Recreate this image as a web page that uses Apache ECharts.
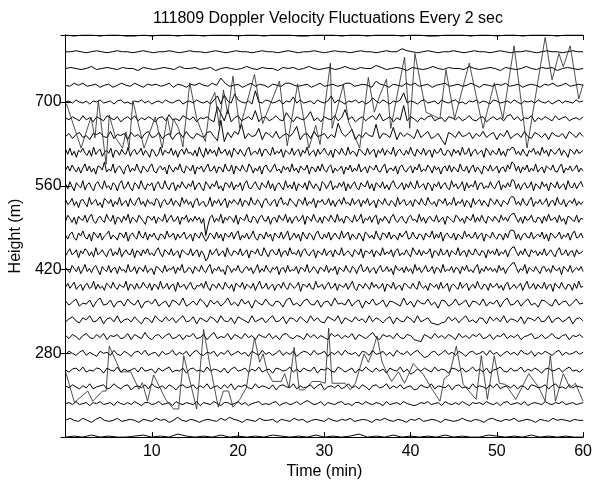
<!DOCTYPE html>
<html><head><meta charset="utf-8">
<script src="https://cdn.jsdelivr.net/npm/echarts@6/dist/echarts.min.js"></script>
<style>html,body{margin:0;padding:0;background:#fff}#c{width:595px;height:485px}</style>
</head><body><div id="c"></div>
<script>
// Trace baselines (m), bottom to top
const baselines = [140,168,196,224,252,280,308,336,364,392,420,448,476,504,532,560,588,616,644,672,700,728,756,784,812];
const xTickLabels = [10,20,30,40,50,60];
const yTickLabels = [280,420,560,700];
// Plot scale: metres of offset per unit of velocity fluctuation
const gain = 1.7;

// Velocity fluctuation traces (scaled units about each baseline), uniformly sampled over 0-60 min
const f140 = [0,1,0,2,0,1,0,0,1,2,0,1,0,3,1,0,1,0,2,0,1,0,1,0,2,1,0,1,0,2,0,1,0,1,3,0,1,0,2,0,1,0,1,0,2,0,1,0,0,2,1,0,1,0,2,0,1,0,1,0,0];
const f168 = [0,2,0,-1,2,0,-2,1,3,0,-1,0,2,-1,0,1,0,-2,1,0,-1,2,0,1,-2,0,3,0,-1,1,0,-2,0,1,0,-1,2,0,3,1,0,-2,1,0,-1,2,0,0,1,-2,1,0,-1,2,0,1,-2,0,1,0,-1,2,0,-1,1,0,2,-1,0,1,0,-2,1,0,2,0,-1,1,0,-2,1,0,2,-1,0,1,0,-2,1,0,-1,0,2,0,-1,1,0,-2,1,2,0,-1,1,0,2,-1,0,1,0,-2,1,0,-1,2,0,1,0,-1,1,0,0];
const f196 = [0,1,-1,2,-1,0,1,-2,1,0,2,-1,0,1,-2,2,0,-1,1,-1,2,0,-2,1,1,-1,0,2,-1,0,1,-2,2,0,-1,1,0,-1,2,-2,1,0,-1,2,0,-2,1,1,-1,0,2,-1,1,-2,0,1,2,-1,0,-1,1,2,-2,0,1,-1,0,2,-1,1,3,1,-1,0,2,-2,1,0,-1,1,2,-1,0,-2,1,1,-1,2,0,-1,1,0,-2,2,-1,0,1,-1,2,0,-1,-2,-1,1,0,2,-1,0,1,-2,2,0,-1,1,-1,2,0,-2,1,0,1,-1,2,0,-1,1,-2,1,2,-1,0,1,-1,2,-2,0,1,0,-1,2,0,-1,1,0,2,-1,0,1,-1,0,1];
const f224 = [1,-1,2,0,-2,1,-1,3,-2,0,1,2,-2,-1,3,0,-2,1,2,-3,0,1,-1,2,-2,3,0,-1,1,-2,2,0,-3,1,2,-1,0,2,-2,1,-1,3,-2,0,1,-2,2,-1,3,-3,1,0,2,-1,-2,3,-1,1,0,-2,2,-3,1,2,0,-1,3,-2,1,-1,0,2,-2,1,3,-3,0,1,-1,2,-2,0,3,-1,1,-2,2,0,-3,1,2,-1,0,3,-2,1,-1,2,-2,0,1,-3,-2,2,0,-1,3,-2,1,0,-1,2,-3,1,2,-1,0,-2,3,-1,1,0,-2,2,-1,3,-2,0,1,-1,2,-2,1,0,-3,2,1,-1,0,2,-2,1,3,-1,0,-2,2,-1,1,0,-1];
const f252 = [0,-2,1,2,-1,3,-2,0,-1,2,1,-3,2,0,-1,3,-2,1,-1,0,2,-2,3,-1,0,1,-3,2,-1,1,3,-2,0,-1,2,-3,1,2,-1,0,-2,3,-1,1,0,-2,2,-3,1,3,-1,0,2,-2,1,-1,3,-2,0,1,-3,2,1,-1,0,3,-2,1,-2,2,0,-1,3,-3,1,0,2,-1,-2,3,1,-2,0,2,-3,1,-1,3,0,-2,2,-1,1,-3,2,0,-1,3,-2,1,-4,-2,1,-1,2,0,-2,3,-1,1,0,-3,2,1,-1,2,-2,0,3,-1,1,-2,2,-3,0,1,3,-1,-2,2,-1,0,3,-2,1,-1,2,0,-3,1,2,-1,0,2,-2,1,3,-1,0,-2,1];
const f280 = [-1,2,0,-2,1,3,-2,1,-1,-3,2,0,1,-2,3,-1,-2,2,0,-3,1,2,-1,3,-2,0,1,-3,2,-1,0,3,-2,1,-1,2,-3,1,3,-1,-2,1,0,2,-3,1,-1,3,-2,0,2,-1,1,-3,2,0,-2,3,-1,1,-2,0,3,-2,1,-1,2,-3,0,2,1,-2,3,-1,0,2,-3,1,-1,2,-2,3,0,-1,1,-3,2,1,-2,3,-1,0,2,-2,1,-3,3,0,-1,2,-2,1,3,-1,-4,-3,1,2,-2,0,3,-1,1,-2,2,0,-3,1,2,-1,0,2,-2,3,-1,1,-3,0,2,-1,1,-2,3,0,-1,2,-3,1,-1,2,0,-2,1,3,-2,1,-1,0,2,-1,1];
const f308 = [1,-2,2,0,-3,1,3,-1,-2,2,-1,3,-3,1,0,2,-2,-1,3,-3,2,0,-2,4,-1,-3,1,2,-2,1,3,-2,-1,2,-3,1,0,3,-2,-1,2,-3,1,4,-2,0,-1,3,-3,2,0,-2,3,-1,1,-3,2,0,-1,3,-2,1,-3,2,3,-1,-2,1,0,-3,3,-1,2,-2,1,-1,-3,3,0,2,-2,1,-1,3,-3,2,0,-2,1,4,-1,-3,2,0,1,-2,3,-1,-2,2,1,-3,-4,-5,2,0,-2,3,-1,1,-2,2,0,-3,3,-1,1,-2,2,0,3,-2,-1,2,-3,1,0,3,-2,1,-1,2,-3,0,1,3,-2,-1,2,-2,0,3,-1,-2,1,2,-3,1,0,2,-1];
const f336 = [-2,1,3,-1,-3,2,0,4,-2,-1,3,-4,1,2,-2,4,-3,0,1,-2,3,-1,-4,2,1,-3,4,0,-2,3,-1,2,-3,1,4,-2,-1,3,-4,2,0,-2,3,1,-3,4,-1,-2,2,-4,3,1,-1,-3,4,-2,0,2,-3,1,4,-2,-1,3,-4,2,1,-2,3,0,-3,4,-1,2,-2,-3,3,1,-1,4,-4,2,0,-2,3,-1,1,-3,4,-2,2,0,-3,1,3,-4,2,-1,-2,3,1,-3,4,-2,0,2,-3,-4,-5,-3,-2,3,-1,2,-3,1,4,-2,0,-3,2,1,-4,3,-1,2,-2,4,-3,1,0,-2,3,-4,2,1,-1,3,-2,-1,4,-3,1,2,-2,0,3,-4,1,2,-1];
const f364 = [2,-2,1,4,-3,0,-1,3,-4,2,5,-2,-1,3,-4,1,2,-3,4,0,-2,3,-5,1,2,-1,4,-3,0,2,-4,3,1,-2,5,-3,-1,2,-2,4,1,-4,3,-1,2,-3,0,5,-2,1,-3,4,-1,2,-5,3,0,-2,4,-1,-3,2,1,-4,3,5,-2,0,-3,2,4,-1,-2,3,-4,1,2,-3,5,-1,0,-2,4,-3,1,3,-5,2,-1,4,-2,0,3,-4,2,1,-1,-3,5,-2,2,-4,3,0,-1,4,-2,1,-5,3,2,-3,-1,4,-2,0,3,-4,2,1,-2,4,-3,1,-1,3,-4,2,5,-2,-1,3,-3,1,4,-2,0,-4,3,2,-1,-3,4,-2,1,2,-3,0,4,-1,0];
const f392 = [-1,3,-2,1,4,-3,0,2,-4,1,3,-2,-1,5,-3,2,-2,0,-4,3,1,-2,4,-1,-3,2,0,-1,5,-4,2,1,-3,3,-2,-1,4,0,-2,3,-4,2,1,-3,5,-2,-1,3,-3,1,2,-5,4,-1,0,2,-3,1,4,-2,-3,1,0,3,-2,5,-1,-4,2,1,-2,3,-1,-3,4,0,-2,2,-5,3,1,-1,4,-3,2,0,-2,3,-4,1,5,-2,-1,3,-3,0,2,-4,1,2,-2,4,-1,-3,3,1,-2,0,4,-5,2,1,-1,3,-2,-3,5,-1,0,2,-3,1,4,-2,-1,3,-4,2,0,-1,3,-3,1,5,-2,-4,2,1,-2,3,0,-3,4,-1,2,-2,-1,3,-5,2,1,-2,4,-3,0,1,-4,3,2,-1,-2,3,-1,-3,5,0,-2,1,-4,3,1,-1,2,-3,4,-2,0,3,-5,1,2,-1,-3,4,-2,1,3,-4,0,2,-2,5,-1,-3,2,1,-4,3,-1,0,3,-2,1,-4,2,4,-3,-1,2,-2,0,3,-4,1,5,-2,-1,3,-3,2,-1,-2,4,-3,1,2,-5,3,0,-2,4,-1,-3,2,1,-4,3,-2,5,-1,0];
const f420 = [2,-1,-3,4,1,-2,3,-4,0,5,-2,1,-3,2,4,-1,-5,3,0,-2,4,-3,1,2,-4,3,-1,0,-3,5,-2,-1,3,-4,2,1,-2,4,-3,0,1,-5,3,2,-1,-3,4,-2,1,0,3,-4,2,-1,5,-3,-2,2,1,-4,3,0,-2,4,-1,-3,2,5,-4,1,-1,3,-2,0,-5,4,2,-3,1,-1,4,-2,-3,1,3,-1,2,-4,0,5,-3,1,-2,4,-1,-3,2,0,3,-5,1,2,-3,4,-2,0,-1,3,-4,2,1,-2,5,-3,-1,3,0,-4,2,1,-2,4,-3,1,-1,3,-5,2,0,-2,4,-1,-3,3,1,-4,2,5,-2,-1,3,-3,0,2,-4,1,4,-2,-1,3,-2,1,-5,4,0,-1,2,-3,3,-2,1,-4,5,-1,2,-3,0,4,-2,-1,3,-4,2,1,-3,5,-2,0,-1,3,-3,2,1,-4,3,-1,4,-2,0,-3,2,5,-4,1,-2,3,-1,2,-2,1,-3,4,-1,2,-4,1,3,6,7,2,-3,1,-1,5,-4,2,0,-2,3,-1,-4,2,3,-2,1,-3,4,0,-1,2,-5,3,1,-2,4,-3,0,2,-1,3,-2];
const f448 = [-3,1,4,-2,0,3,-5,2,-1,4,2,-3,1,-4,5,-2,0,3,-1,-4,2,4,-3,1,-2,5,-4,0,3,-1,-2,4,-5,2,1,-3,3,-1,4,-2,0,-3,2,5,-1,-4,3,1,-2,4,-3,0,2,-5,3,1,-1,-2,4,-3,1,3,-4,2,-1,-8,-5,3,-2,1,4,-3,0,2,-4,5,-1,-3,2,1,-2,4,-3,0,3,-5,2,1,-1,4,-2,-3,5,0,-4,2,3,-1,-2,4,-4,1,2,-3,5,-1,0,-2,3,-4,2,4,-1,-3,1,3,-5,2,0,-2,4,-3,1,2,-4,3,-1,-2,5,-3,0,2,-1,-4,3,1,-2,4,-5,2,1,-1,3,-4,2,0,-3,5,-2,1,-1,3,-4,2,4,-3,0,-2,3,-1,-4,5,1,-2,3,-3,2,-1,0,4,-5,2,1,-3,4,-2,-1,3,-4,2,0,-2,5,-3,1,2,-4,3,-1,-2,4,0,-3,2,1,-5,3,-1,2,-2,4,-3,1,-1,3,-4,2,5,6,1,-3,2,-2,4,-1,-4,3,0,2,-3,1,-2,4,-3,0,3,-1,-4,2,5,-2,-1,3,-3,1,2,-4,3,-1,0,2];
const f476 = [1,-3,2,4,-2,-4,3,0,5,-1,-3,2,-5,4,1,-2,3,-4,0,2,5,-3,1,-1,-4,3,2,-2,4,-5,1,3,-1,-3,5,0,-2,4,-4,2,-1,3,-2,-4,2,1,-3,5,-1,0,3,-4,2,-2,1,4,-3,-1,2,-5,3,0,-2,4,-1,-5,-2,3,1,-3,4,-2,2,-5,3,0,-1,4,-3,2,5,-4,1,-2,3,-3,0,5,-2,-4,2,1,-3,4,-1,2,-5,3,0,-2,4,-3,1,5,-4,-1,3,-2,2,-5,4,0,-3,3,1,-4,2,5,-1,-3,2,-2,4,-4,0,3,-1,-3,5,-2,1,4,-4,2,-1,-3,3,0,-5,4,2,-2,1,-3,5,-1,-4,3,2,-2,4,-3,1,0,-4,3,-1,2,5,-3,-2,4,-1,-3,2,1,-4,3,0,-1,5,-3,2,-2,4,-5,1,3,-1,-2,3,-4,2,0,-3,5,-1,2,-2,-1,4,-3,1,3,-5,2,0,-2,4,-1,-3,2,1,-4,3,-2,5,6,5,-3,2,-4,1,3,-1,-2,4,-3,0,2,-1,4,-3,2,-5,3,1,-2,0,4,-3,1,-1,3,-4,2,5,-2,-1,3,-2];
const f504 = [-2,4,1,-3,2,-5,3,0,-1,4,-3,2,5,-2,-4,1,3,-1,-3,5,0,-2,4,-5,2,1,-3,3,-1,5,-4,2,0,-3,4,1,-2,-5,3,2,-1,3,-4,2,0,-2,5,-3,1,4,-2,-1,3,-5,2,0,4,-3,1,-2,3,-1,2,-4,1,-16,-6,2,4,-3,1,-2,5,-4,2,-1,3,1,-3,4,-5,2,0,-1,5,-2,-3,3,1,-4,2,4,-1,-2,3,-5,1,2,-3,4,0,-1,5,-3,2,-4,1,3,-2,0,4,-5,3,1,-2,5,-1,-3,2,-4,3,1,-2,4,0,-3,5,-2,1,-4,3,2,-1,-3,4,-2,0,5,-4,1,-1,3,-3,2,4,-5,1,-2,3,0,-4,2,5,-1,-3,1,3,-2,-4,2,4,-1,0,-3,5,-2,2,-4,1,3,-1,-2,4,-3,0,2,-5,3,1,-1,-3,4,2,-2,1,-4,3,0,-1,5,-3,2,-2,4,-1,-4,3,1,-2,3,0,-3,4,-1,2,-2,3,5,6,1,-3,2,-4,3,-1,0,4,-2,-3,2,1,-4,3,-2,5,-1,0,2,-3,4,-2,1,-5,3,2,-1,-2,4,-3,1,0];
const f532 = [3,-2,0,4,-3,1,-5,2,3,-1,-4,5,-2,1,3,-3,0,-5,4,2,-1,3,-4,1,-2,5,-3,0,2,-4,4,-1,-3,2,5,-2,1,-4,3,-1,0,-3,4,2,-5,1,3,-2,-1,4,-3,2,0,-4,5,-1,3,-2,1,-5,2,4,-3,0,1,-4,-2,5,-4,2,-1,3,-3,1,4,-5,2,-1,3,0,-2,4,-4,2,1,-3,5,-1,-2,3,0,-5,2,4,-1,-3,1,3,-4,2,5,-2,0,-3,4,1,-1,-4,3,2,-2,5,-3,1,-1,4,-5,2,0,3,-2,-1,4,-3,2,-4,1,3,-2,5,-1,0,-3,4,-2,1,3,-4,2,-1,4,-3,0,2,-5,3,1,-2,4,-1,-3,2,0,-4,5,-2,1,3,-3,-1,2,-4,3,1,-2,4,-1,-3,5,0,-2,1,-4,3,2,-1,4,-3,0,-2,5,-3,1,-1,3,-4,2,0,-5,4,-2,1,3,-3,2,-1,-4,4,1,-2,3,-1,-4,2,0,-2,4,6,5,-2,1,-3,4,-1,-3,2,5,-4,1,-1,3,-2,0,4,-4,1,2,-3,5,-1,-2,3,-4,0,2,-1,4,-3,1,-2,1];
const f560 = [2,-3,4,-1,-5,3,0,-2,5,-4,1,3,-2,-5,2,4,-1,-3,5,-2,0,-4,3,1,-5,2,5,-3,-1,4,-2,-5,3,1,-3,5,-1,-4,2,0,3,-5,1,4,-2,-3,5,-1,-4,2,3,-5,1,-2,4,0,-3,2,-1,5,-4,1,3,-2,-5,4,1,-3,2,-1,5,-3,0,-5,3,2,-2,4,-4,1,-1,3,-5,2,5,-2,-3,1,4,-1,-4,3,0,-2,5,-3,2,-5,1,3,-1,-4,5,-2,1,-3,4,-5,2,0,-2,3,-4,5,1,-3,2,-1,-5,4,2,-3,1,5,-4,0,-2,3,-1,4,-5,2,-3,1,4,-2,-4,3,0,-1,5,-3,2,-5,3,1,-2,4,-3,1,-4,2,5,-1,-3,0,3,-4,2,-2,4,-1,-3,5,-2,0,2,-4,3,1,-5,2,-1,4,-3,1,3,-2,-4,5,-1,2,-3,0,4,-5,3,-2,1,-1,5,-4,2,3,-3,0,-2,4,-1,-3,2,5,-4,1,-2,3,-1,6,5,-3,2,-4,1,3,-2,-1,4,-5,2,0,-3,4,-1,2,-5,3,1,-2,4,-3,0,2,-4,5,-1,-2,3,-3,1,4,-1];
const f588 = [-1,3,-2,4,0,-3,2,-4,1,5,-2,3,-3,1,-5,3,2,-1,7,-3,0,-2,5,-4,1,3,-1,-5,2,4,-3,1,-2,5,-1,-4,3,0,-3,2,5,-2,-4,1,3,-1,2,-5,4,0,-3,2,-1,5,-2,-4,3,1,-2,4,-5,2,0,3,-3,1,5,-2,-1,3,-4,2,1,-3,5,-1,-2,4,-5,3,0,-2,4,-1,-3,5,2,-4,1,-2,3,-5,2,4,-1,-3,1,5,-2,0,-4,3,-1,2,-3,5,-2,1,-4,3,0,-1,4,-5,2,1,-3,3,-2,5,-1,-3,2,4,-4,1,-2,0,3,-5,2,-1,4,-3,1,-2,5,-3,0,2,-4,3,1,-1,4,-2,-3,2,5,-4,0,1,-2,3,-5,2,4,-1,-3,1,3,-4,2,-1,5,-3,0,-2,4,1,-4,3,-1,2,-5,1,3,-2,4,-3,2,0,-3,5,-1,-2,3,-4,1,4,-3,2,-1,-5,3,1,-2,4,-2,0,3,-4,1,2,-3,4,0,7,5,-2,3,-4,2,-1,4,-3,1,-2,5,-3,0,2,-4,3,1,-1,4,-2,-3,2,5,-4,1,-1,3,-2,0,4,-3,1,-2];
const f616 = [3,-2,4,-3,1,-5,2,0,4,-1,-3,2,-4,5,-2,1,3,-4,0,2,-1,4,-5,2,1,-3,3,-1,-2,5,-4,1,3,-2,0,4,-3,2,-1,-5,3,1,-4,-2,5,-3,2,0,-1,4,-3,2,-5,1,3,-2,4,-1,0,-3,2,-4,5,-1,-5,4,-2,3,-1,2,-4,5,-1,0,3,-3,2,-5,4,1,-2,3,-1,-4,2,5,-3,0,1,-2,4,-4,2,3,-1,-3,5,-2,1,-1,3,-5,2,0,-2,4,-3,1,3,-4,2,-1,5,-3,0,2,-4,3,-2,1,4,-1,-3,2,-5,3,1,-2,4,-1,-3,5,-2,1,0,-4,3,2,-1,-3,4,-2,1,3,-5,2,-1,4,-3,2,0,-2,5,-4,1,3,-1,-3,2,-2,5,-1,-4,3,0,-2,4,-3,1,2,-5,3,-1,0,4,-2,-3,2,1,-4,3,-1,2,-3,5,-2,-1,4,-4,1,3,-2,0,2,-5,4,1,-3,2,-1,-2,4,-3,1,-4,3,2,5,4,-2,1,-3,3,-1,-4,2,0,4,-2,1,-3,5,-1,2,-4,3,0,-2,1,4,-3,2,-1,-5,3,1,-2,3,-1,0,2];
const f644 = [-1,2,-3,1,3,-2,0,-4,2,1,3,-1,-2,4,-3,1,0,2,-4,3,-1,1,-3,2,4,-2,-1,3,-3,0,2,-4,1,3,-2,4,-1,-3,2,0,-2,3,4,-1,-5,15,-6,3,-2,4,1,11,-3,2,-1,0,7,-4,3,1,-2,4,-3,0,2,-1,3,9,-4,1,2,-3,4,-1,0,2,-3,1,-2,12,3,-1,2,6,-4,1,-2,3,0,-1,11,-3,2,1,-2,8,-4,3,-1,2,0,-3,6,-2,1,4,-3,-1,2,-4,-9,3,1,-2,4,-1,0,3,-3,2,-1,4,-2,1,3,-4,2,-1,5,-3,0,2,-2,4,-1,-3,3,1,-2,2,-4,3,0,-1,2,-3,4,1,-2,3,-1];
const f672 = [1,-1,2,0,-2,3,-1,1,-3,2,0,-2,3,1,-1,2,-3,0,2,-1,3,-2,1,-1,2,0,-3,1,2,-2,4,-1,0,-2,3,1,-1,2,-3,1,0,2,-1,-3,12,5,-2,9,-3,1,3,-2,0,2,-1,8,-3,1,2,-2,0,3,-1,-2,6,1,-3,2,0,-1,2,7,-2,1,-3,2,0,-1,3,-2,1,9,-1,2,-3,0,2,-2,1,3,-1,5,-2,0,2,-3,1,-1,13,-2,2,0,-3,1,-1,2,3,-2,0,1,-3,2,1,-1,2,-2,0,3,-1,-2,1,2,-3,0,2,-1,1,-2,3,4,-1,2,-2,1,0,3,-3,1,-1,2,0,-2,3,-1,1,2,-2,0,1,-1,2];
const f700 = [0,1,-1,2,0,-1,1,-2,1,0,2,-1,0,1,-2,1,2,-1,0,-2,1,0,2,-1,1,-2,0,1,-1,2,0,-1,1,2,-2,0,1,-1,2,0,-1,1,-2,2,6,-2,7,1,-1,8,2,0,-1,1,-2,11,0,-1,2,1,-1,0,2,-2,1,0,5,-1,2,-1,0,1,-2,2,0,-1,1,6,-1,2,0,-2,1,0,2,-1,1,-2,0,4,1,-1,2,0,-2,1,0,2,9,-1,1,0,-2,1,2,-1,0,1,-2,2,0,-1,1,2,-1,0,-2,1,0,2,-1,1,0,-2,2,1,-1,0,1,-1,2,0,-2,1,0,1,-1,2,0,-1,1,-2,0,2,-1,1,0,-1,2,0,1];
const f728 = [0,-1,2,0,2,-1,0,1,-2,0,1,-2,0,2,0,-1,2,0,-2,1,0,1,-1,0,2,-2,1,0,-2,1,0,2,0,-1,2,0,7,2,-1,0,1,-2,0,2,-1,1,0,-2,1,0,-1,2,2,0,-1,0,1,-2,0,2,-1,0,1,-1,0,2,2,-1,0,1,0,-2,4,1,0,-2,1,0,-1,2,0,2,-1,0,1,-2,0,1,2,-1,0,1,-1,0,2,0,-2,1,0,-1,1,0,2,-1,0,1,-2,0,1,0,-2,1,0,2,-1,0,2,-1,0,1,0];
const f756 = [0,1,0,-1,0,2,-1,0,1,0,-1,1,0,0,-2,1,0,-1,0,1,0,-1,2,0,0,1,-1,0,1,-2,0,1,0,-1,0,2,0,-1,1,0,0,-2,1,0,1,-1,0,2,0,-1,0,1,-1,0,2,0,-1,1,0,0,3,1,-1,0,1,0,-2,1,0,-1,0,2,0,-1,1,0,0,-1,2,0,-1,0,1,0,-2,1,0,-1,0,2,0,-1,1,0,1,-2,0,1,0,-1,0];
const f784 = [0,0,1,0,-1,0,1,0,-1,0,1,0,0,-1,0,1,0,-1,0,0,1,0,-1,0,1,0,0,-1,0,1,0,-1,0,1,0,0,-1,0,1,0,0,-1,0,1,0,-1,0,0,1,0,-1,0,1,0,0,-1,0,1,0,0,-1,0,1,0,0,3,1,0,-1,0,1,0,-1,0,0,1,0,-1,0,1,0,0,-1,0,1,0,-1,0,0,1,0,-1,0,1,0,0,-1,0,1,0,0];
const f812 = [0,-1,0,0,-1,0,0,-1,-1,0,-1,0,0,-1,0,0,-1,0,0,0,-1,0,0,-1,0,0,0,-1,-1,0,0,0,-1,0,0,-1,0,0,0,-1,0,0,-1,-1,0,0,0,-1,0,0,-1,0,0,-1,0,0,0,-1,0,0,0];

// Sparse, irregular traces (time in min, height in m) with large excursions
const upperSparseT = [0.1,1.8,2.95,3.4,3.8,4.7,5.06,5.8,6.6,7.0,7.36,7.8,9.1,10.4,11.2,11.8,12.2,12.5,13.1,13.6,14.4,15.2,16.2,16.8,17.3,17.8,18.3,18.8,19.4,20.2,21.9,22.85,24.8,25.7,26.9,28.2,29.0,29.5,30.7,30.9,32.2,32.8,34.1,35.1,35.8,36.4,37.2,37.7,39.3,39.9,40.5,41.8,43.4,44.1,45.1,46.8,48.4,49.7,50.7,52.0,53.5,55.6,56.4,57.2,57.7,58.5,59.5,60];
const upperSparseH = [697,623,675,640,702,596,678,640,623,650,623,702,623,675,623,675,645,672,656,625,732,672,634,700,716,660,720,680,743,656,746,664,735,627,730,623,661,629,765,656,729,667,623,741,683,710,738,656,775,656,781,683,672,754,672,765,656,732,672,794,623,808,737,781,759,794,705,730];
const lowerSparseT = [0,1.03,2.57,3.14,4.3,4.7,5.06,6.4,7.55,8.5,8.9,9.5,10.2,11.6,12.5,13.1,13.7,15.2,16.0,16.7,17.7,18.3,18.9,19.4,20.2,20.95,21.9,22.5,22.9,23.4,24.0,25.0,25.4,25.9,26.5,27.1,27.7,28.6,29.4,30.1,30.5,30.9,32.4,33.0,33.6,34.6,35.1,35.5,36.1,36.7,37.2,37.8,38.6,39.3,39.9,40.3,41.5,42.4,43.4,43.9,44.5,45.3,46.1,47.6,48.2,48.9,49.7,50.3,51.0,52.2,53.7,54.9,55.6,56.2,56.8,57.7,58.5,59.1,60];
const lowerSparseH = [249,198,217,200,217,217,292,249,249,220,231,200,244,203,187,187,276,187,320,263,190,217,217,190,203,222,306,265,279,249,233,233,246,222,290,219,219,233,233,230,322,230,230,219,230,279,265,279,309,265,249,233,249,230,249,263,244,222,200,238,244,292,228,203,276,203,276,230,228,203,246,222,200,276,200,246,222,230,200];

const traces = [f140,f168,f196,f224,f252,f280,f308,f336,f364,f392,f420,f448,f476,f504,f532,f560,f588,f616,f644,f672,f700,f728,f756,f784,f812];

const series = [];
traces.forEach((fl, k) => {
  const base = baselines[k];
  const n = fl.length;
  series.push({
    type: 'line', symbol: 'none', silent: true, animation: false,
    lineStyle: { color: '#000', width: 1 },
    data: fl.map((v, i) => [i * 60 / (n - 1), base + gain * v])
  });
});
series.push({
  type: 'line', symbol: 'none', silent: true, animation: false,
  lineStyle: { color: '#222', width: 0.8 },
  data: upperSparseT.map((t, i) => [t, upperSparseH[i]])
});
series.push({
  type: 'line', symbol: 'none', silent: true, animation: false,
  lineStyle: { color: '#222', width: 0.8 },
  data: lowerSparseT.map((t, i) => [t, lowerSparseH[i]])
});

const FONT = "'Liberation Sans', Arial, Helvetica, sans-serif";
const chart = echarts.init(document.getElementById('c'), null, { renderer: 'canvas' });
chart.setOption({
  backgroundColor: '#fff',
  animation: false,
  title: {
    text: '111809 Doppler Velocity Fluctuations Every 2 sec',
    left: 323, top: 6, textAlign: 'center',
    textStyle: { fontFamily: FONT, fontSize: 16, fontWeight: 'normal', color: '#000' }
  },
  grid: { left: 60, right: 9, top: 35, bottom: 39, containLabel: false },
  xAxis: [{
    type: 'value', min: 0, max: 60, interval: 10, position: 'bottom',
    name: 'Time (min)', nameLocation: 'middle', nameGap: 20,
    nameTextStyle: { fontFamily: FONT, fontSize: 16, color: '#000' },
    axisLine: { show: true, lineStyle: { color: '#000', width: 1 } },
    axisTick: { show: true, inside: true, length: 5, lineStyle: { color: '#000' } },
    axisLabel: { showMinLabel: false, margin: 6, fontFamily: FONT, fontSize: 16, color: '#000',
      formatter: v => xTickLabels.includes(v) ? String(v) : '' },
    splitLine: { show: false }
  }, {
    type: 'value', min: 0, max: 60, interval: 10, position: 'top',
    axisLine: { show: true, lineStyle: { color: '#000', width: 1 } },
    axisTick: { show: true, inside: true, length: 5, lineStyle: { color: '#000' } },
    axisLabel: { show: false }, splitLine: { show: false }
  }],
  yAxis: [{
    type: 'value', min: 140, max: 812, interval: 140, position: 'left',
    name: 'Height (m)', nameLocation: 'middle', nameGap: 31, nameRotate: 90,
    nameTextStyle: { fontFamily: FONT, fontSize: 16, color: '#000' },
    axisLine: { show: true, lineStyle: { color: '#000', width: 1 } },
    axisTick: { show: true, inside: true, length: 5, lineStyle: { color: '#000' } },
    axisLabel: { showMinLabel: false, showMaxLabel: false, margin: 4, fontFamily: FONT, fontSize: 16, color: '#000',
      formatter: v => yTickLabels.includes(v) ? String(v) : '' },
    splitLine: { show: false }
  }, {
    type: 'value', min: 140, max: 812, interval: 140, position: 'right',
    axisLine: { show: true, lineStyle: { color: '#000', width: 1 } },
    axisTick: { show: true, inside: true, length: 5, lineStyle: { color: '#000' } },
    axisLabel: { show: false }, splitLine: { show: false }
  }],
  series: series
});
</script></body></html>
